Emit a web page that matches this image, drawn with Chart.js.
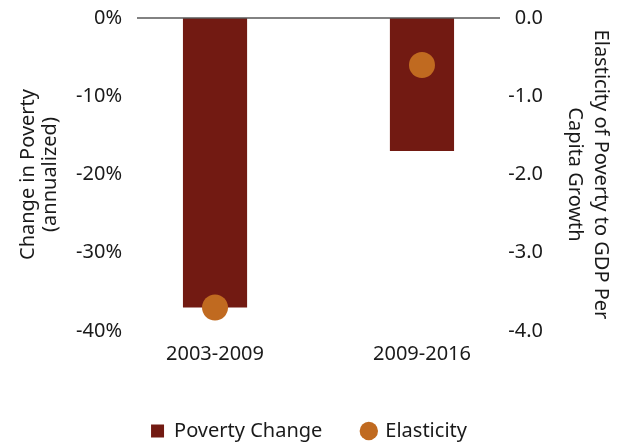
<!DOCTYPE html>
<html>
<head>
<meta charset="utf-8">
<script src="https://cdn.jsdelivr.net/npm/chart.js@4"></script>
<style>
  html, body { margin: 0; padding: 0; background: #fff; }
  #wrap { width: 618px; height: 443px; }
</style>
</head>
<body>
<div id="wrap"><canvas id="grafico"></canvas></div>
<script>
var periodos = ["2003-2009", "2009-2016"];
var mudancaPobreza = [-37, -17];     // % annualized
var elasticidade = [-3.7, -0.6];

var fonte = "'Noto Sans', sans-serif";
var corTexto = "#1a1a1a";

// zero line along the top of the plot
var linhaZero = {
  id: "linhaZero",
  afterDatasetsDraw: function (chart) {
    var a = chart.chartArea, ctx = chart.ctx;
    var y = chart.scales.y.getPixelForValue(0);
    ctx.save();
    ctx.strokeStyle = "#595959";
    ctx.lineWidth = 1.5;
    ctx.beginPath();
    ctx.moveTo(a.left, y);
    ctx.lineTo(a.right, y);
    ctx.stroke();
    ctx.restore();
  }
};

// y axes: fixed width, no extra room above/below the plot for labels
function ajustaEixoY(largura) {
  return function (s) {
    s.width = largura;
    s.paddingTop = 0;
    s.paddingBottom = 0;
  };
}

new Chart(document.getElementById("grafico").getContext("2d"), {
  data: {
    datasets: [
      {
        type: "line",
        label: "Elasticity",
        data: elasticidade.map((v, i) => ({ x: i, y: v })),
        yAxisID: "y1",
        showLine: false,
        pointRadius: 13,
        pointHoverRadius: 13,
        pointStyle: "circle",
        backgroundColor: "#C06A20",
        borderColor: "#C06A20",
        borderWidth: 0
      },
      {
        type: "bar",
        label: "Poverty Change",
        data: mudancaPobreza.map((v, i) => ({ x: i, y: v })),
        yAxisID: "y",
        backgroundColor: "#721A12",
        borderWidth: 0,
        pointStyle: "rect",
        barPercentage: 0.31,
        categoryPercentage: 1
      }
    ]
  },
  options: {
    responsive: true,
    maintainAspectRatio: false,
    animation: false,
    layout: { padding: { top: 18, bottom: -8 } },
    plugins: {
      tooltip: { enabled: false },
      legend: {
        position: "bottom",
        labels: {
          usePointStyle: true,
          boxWidth: 13,
          boxHeight: 13,
          padding: 40,
          color: corTexto,
          font: { family: fonte, size: 20 },
          sort: function (a, b) { return b.datasetIndex - a.datasetIndex; }
        }
      }
    },
    scales: {
      x: {
        type: "linear",
        offset: false,
        min: -0.377, max: 1.377,
        grid: { display: false, drawTicks: false, offset: false },
        border: { display: false },
        afterBuildTicks: function (s) { s.ticks = periodos.map((p, i) => ({ value: i })); },
        ticks: {
          color: corTexto,
          font: { family: fonte, size: 20 },
          padding: 11,
          callback: function (v) { return periodos[v]; }
        },
        afterFit: function (s) {
          s.height = 50;
          s.paddingLeft = 0;
          s.paddingRight = 0;
        }
      },
      y: {
        position: "left",
        min: -40, max: 0,
        grid: { display: false, drawTicks: false },
        border: { display: false },
        ticks: {
          stepSize: 10,
          color: corTexto,
          padding: 15,
          font: { family: fonte, size: 20 },
          callback: function (v) { return v + "%"; }
        },
        title: {
          display: true,
          text: ["Change in Poverty", "(annualized)"],
          color: corTexto,
          font: { family: fonte, size: 20, lineHeight: 1.1 },
          padding: { top: 17, bottom: 0 }
        },
        afterFit: ajustaEixoY(137)
      },
      y1: {
        position: "right",
        min: -4, max: 0,
        grid: { display: false, drawTicks: false },
        border: { display: false },
        ticks: {
          stepSize: 1,
          mirror: true,
          padding: 43,
          color: corTexto,
          font: { family: fonte, size: 20 },
          callback: function (v) { return v.toFixed(1); }
        },
        title: {
          display: true,
          text: ["Elasticity of Poverty to GDP Per", "Capita Growth"],
          color: corTexto,
          font: { family: fonte, size: 20, lineHeight: 1.3 },
          padding: { top: 4, bottom: 0 }
        },
        afterFit: ajustaEixoY(118)
      }
    }
  },
  plugins: [linhaZero]
});
</script>
</body>
</html>
